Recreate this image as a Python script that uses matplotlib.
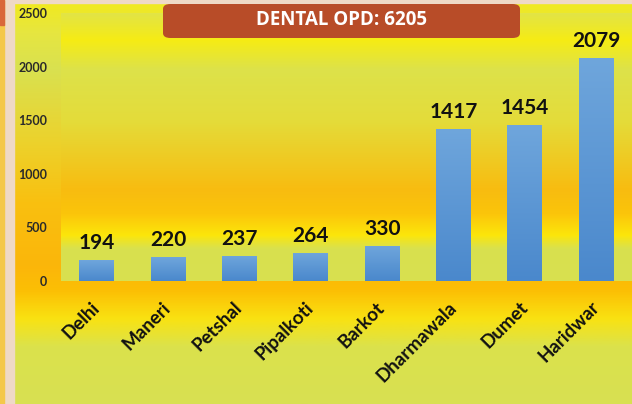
import matplotlib.pyplot as plt
import numpy as np
from matplotlib.colors import LinearSegmentedColormap
from matplotlib.patches import FancyBboxPatch, Rectangle
import matplotlib.transforms as mtransforms

centres = ['Delhi', 'Maneri', 'Petshal', 'Pipalkoti', 'Barkot',
           'Dharmawala', 'Dumet', 'Haridwar']
opd = [194, 220, 237, 264, 330, 1417, 1454, 2079]
yticks = [0, 500, 1000, 1500, 2000, 2500]
title = 'DENTAL OPD: 6205'

fig = plt.figure(figsize=(6.32, 4.04), dpi=100)

# page background gradient (top -> bottom)
bg_cmap = LinearSegmentedColormap.from_list('bg', [
    (0.00, '#f2ea1c'), (0.08, '#e6e640'), (0.17, '#d9e150'),
    (0.35, '#ecd22c'), (0.50, '#f9c010'), (0.66, '#fbb60a'),
    (0.72, '#fcbf04'), (0.79, '#f9e212'), (0.86, '#dbe24c'),
    (1.00, '#d8e052')])
grad = np.linspace(0, 1, 256).reshape(-1, 1)
bg = fig.add_axes([0, 0, 1, 1], zorder=-2)
bg.imshow(grad, cmap=bg_cmap, aspect='auto', extent=[0, 1, 0, 1])
bg.set_xlim(0, 1)
bg.set_ylim(0, 1)
bg.axis('off')

# left border strip
bg.add_patch(Rectangle((0, 0), 14 / 632, 1, color='#efd9c6', zorder=3))
bg.add_patch(Rectangle((0, 0), 4 / 632, 1, color='#f4c84a', zorder=4))
bg.add_patch(Rectangle((0, 1 - 25 / 404), 4 / 632, 25 / 404, color='#d9673a', zorder=5))
bg.add_patch(Rectangle((0, 1 - 3 / 404), 1, 3 / 404, color='#efd9c6', zorder=3))

pos = [61 / 632, 123 / 404, 571 / 632, 268 / 404]

# plot area gradient
pa_cmap = LinearSegmentedColormap.from_list('pa', [
    (0.00, '#e2e446'), (0.10, '#f6ec14'), (0.21, '#dde24a'),
    (0.40, '#e4dc3a'), (0.66, '#f8bc10'), (0.75, '#fbc50a'),
    (0.83, '#fce60a'), (0.88, '#d9e14e'), (1.00, '#d8e050')])
pa = fig.add_axes(pos, zorder=-1)
pa.imshow(grad, cmap=pa_cmap, aspect='auto', extent=[0, 1, 0, 1])
pa.set_xlim(0, 1)
pa.set_ylim(0, 1)
pa.axis('off')

ax = fig.add_axes(pos)
ax.set_facecolor('none')
x = np.arange(len(centres))
bars = ax.bar(x, opd, width=0.49, color='#5b9bd5', zorder=2)

bar_cmap = LinearSegmentedColormap.from_list('bar', ['#6fa6dc', '#4a88cc'])
for b in bars:
    x0, w, h = b.get_x(), b.get_width(), b.get_height()
    im = ax.imshow(grad, cmap=bar_cmap, aspect='auto',
                   extent=[x0, x0 + w, 0, h], zorder=3)
    im.set_clip_path(b)

for xi, v in zip(x, opd):
    ax.annotate(str(v), (xi, v), xytext=(0, 5), textcoords='offset points',
                ha='center', va='bottom', fontsize=15, fontweight='bold',
                family='Lato', color='#111111', zorder=4)

ax.set_xlim(-0.5, len(centres) - 0.5)
ax.set_ylim(0, 2500)
ax.set_yticks(yticks)
ax.set_yticklabels([str(t) for t in yticks], fontsize=9, fontweight='bold',
                   family='Lato', color='#2a2a2a')
ax.set_xticks(x)
ax.set_xticklabels(centres, rotation=45, ha='right', va='center',
                   rotation_mode='anchor', fontsize=13.5, fontweight='bold',
                   family='Lato', color='#111111')
offset = mtransforms.ScaledTranslation(6 / 72, 0, fig.dpi_scale_trans)
for lbl in ax.get_xticklabels():
    lbl.set_transform(lbl.get_transform() + offset)
ax.tick_params(axis='both', length=0)
ax.tick_params(axis='y', pad=10)
ax.tick_params(axis='x', pad=17)
for s in ax.spines.values():
    s.set_visible(False)

# title banner
banner = FancyBboxPatch((163 / 632, 1 - 38 / 404), 357 / 632, 34 / 404,
                        boxstyle='round,pad=0,rounding_size=0.012',
                        transform=fig.transFigure, facecolor='#b84c28',
                        edgecolor='none', zorder=5)
fig.patches.append(banner)
fig.text(342 / 632, 1 - 20 / 404, title, ha='center', va='center',
         fontsize=13.5, fontweight='bold', family='Open Sans', color='white',
         zorder=6)

fig.savefig('out.png', dpi=100)
